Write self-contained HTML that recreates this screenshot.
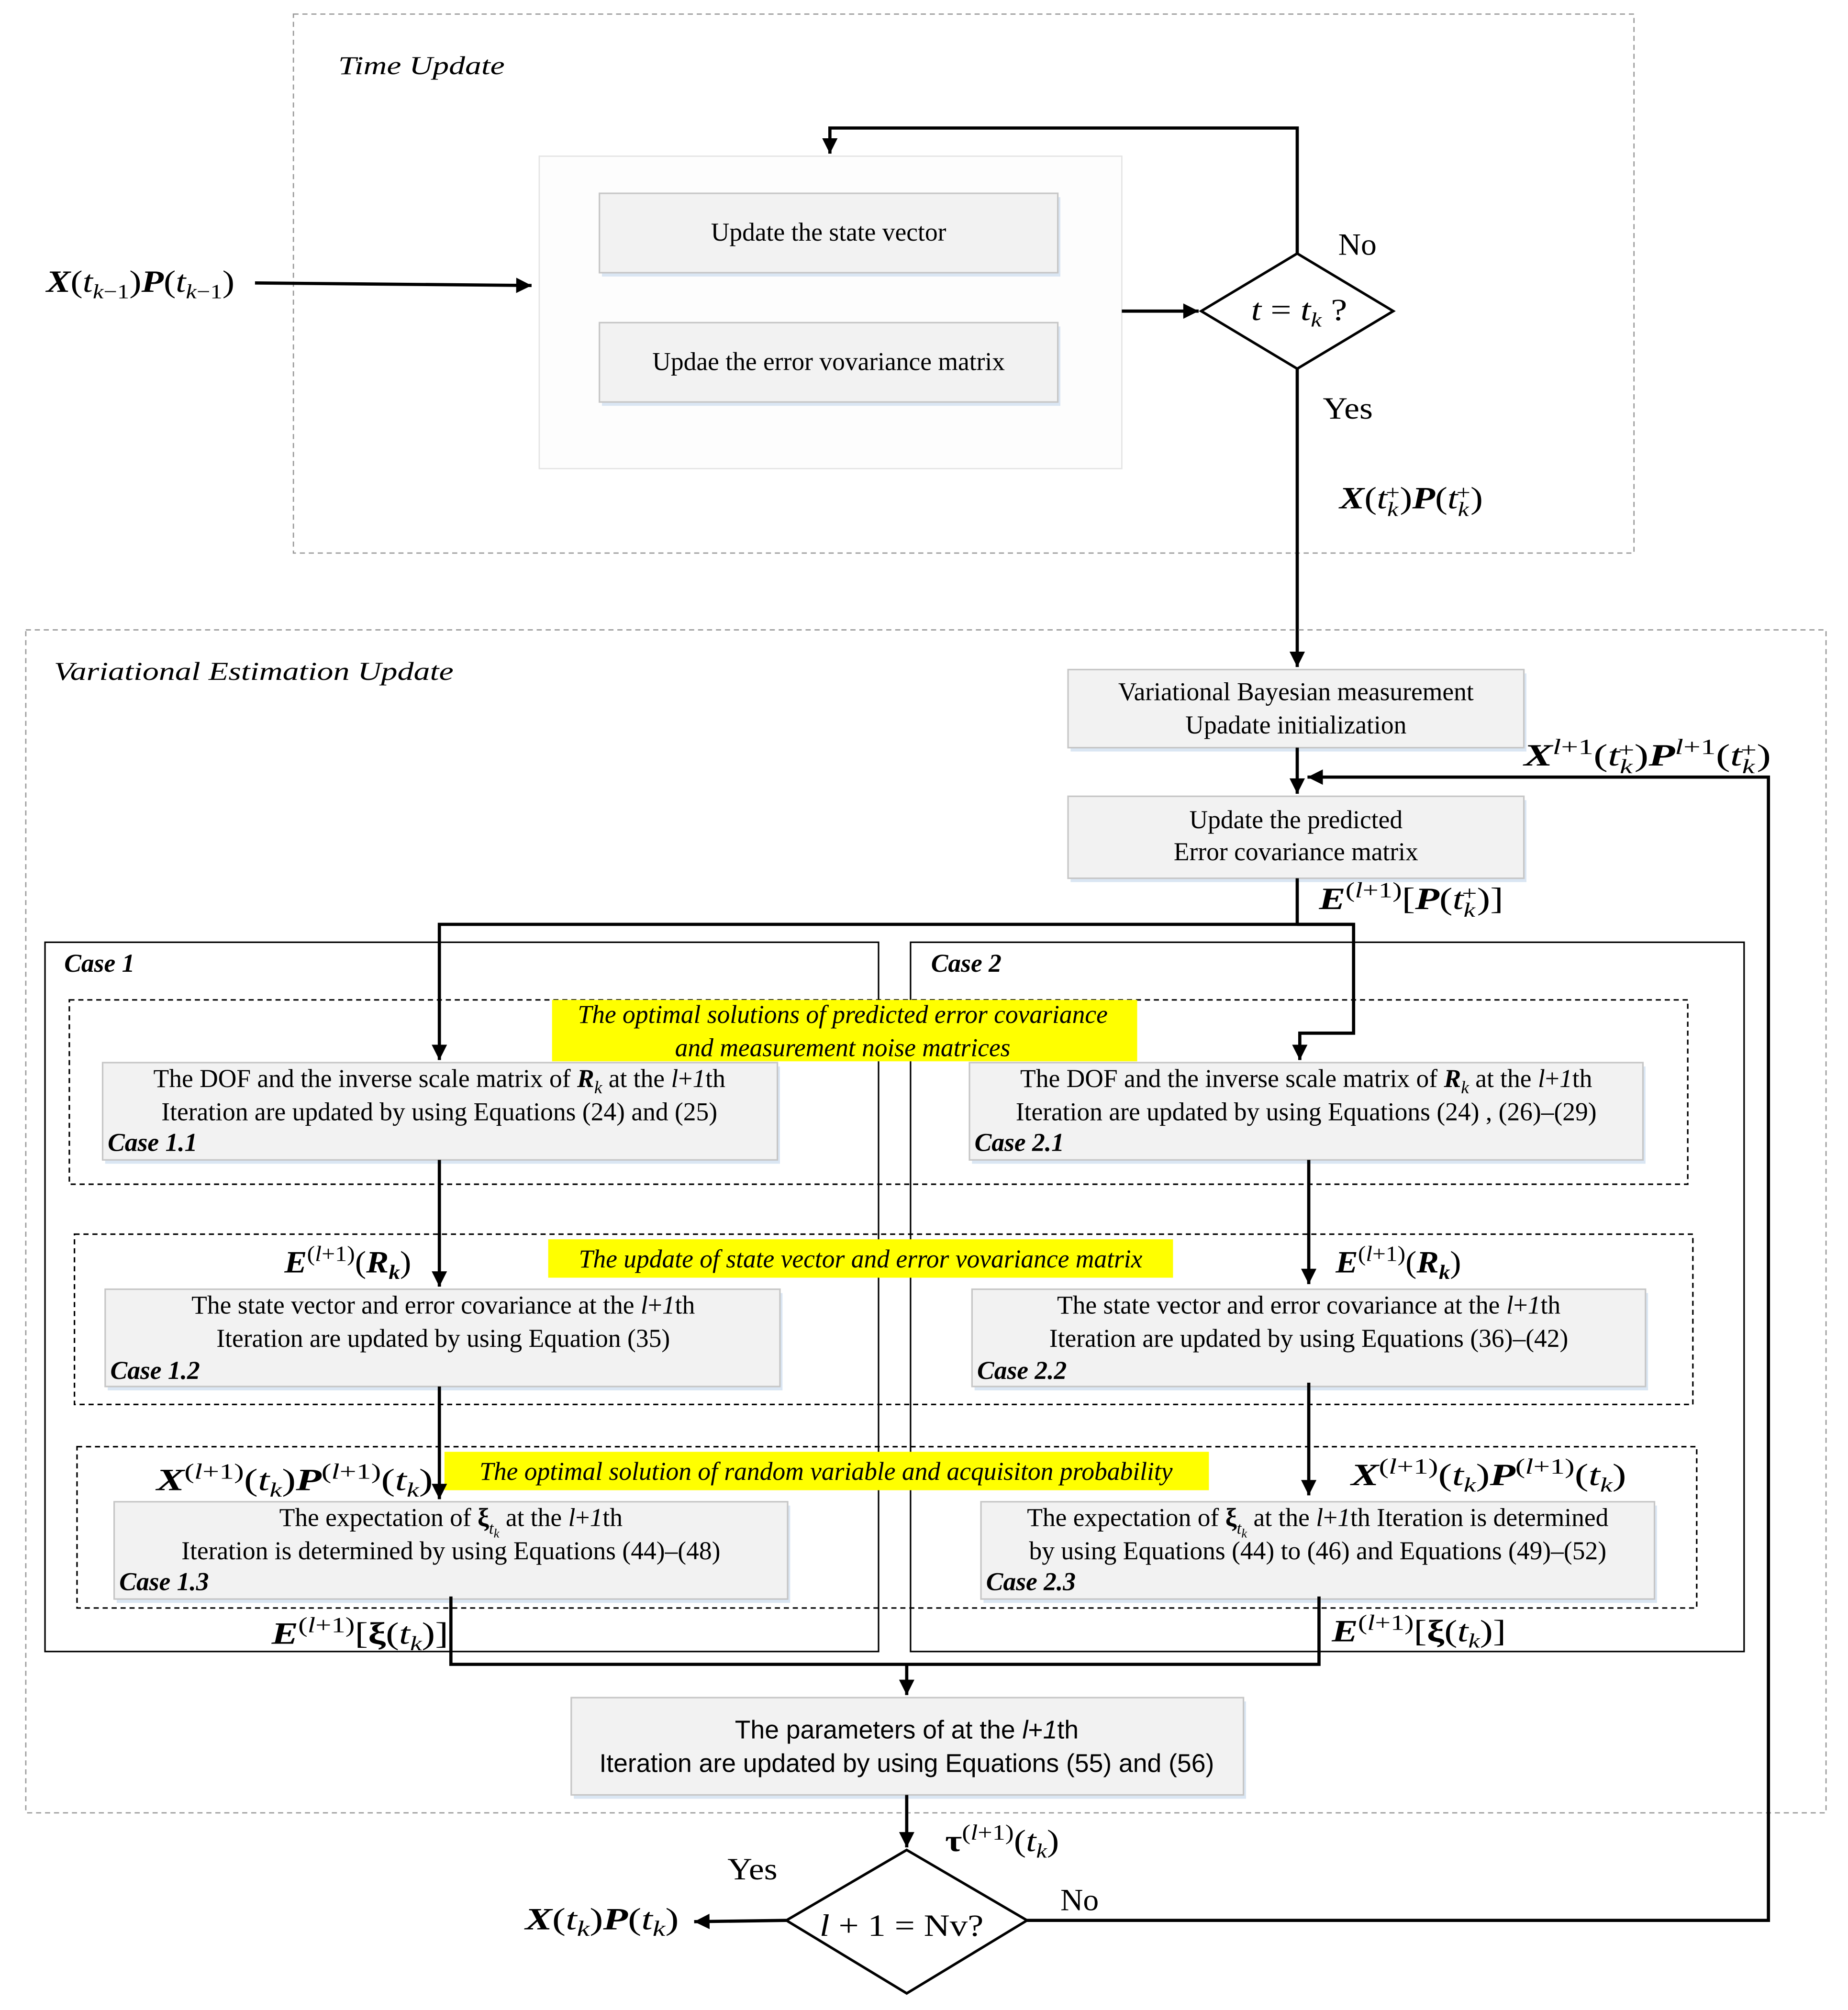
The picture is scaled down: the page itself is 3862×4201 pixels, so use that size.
<!DOCTYPE html>
<html><head><meta charset="utf-8"><style>
html,body{margin:0;padding:0;background:#fff}
svg{display:block}
text{font-family:"Liberation Serif",serif;fill:#000}
.t{font-size:20px}
.c{text-anchor:middle}
.i{font-style:italic}
.b{font-weight:bold}
.bi{font-weight:bold;font-style:italic}
.bx{fill:#f2f2f2;stroke:#c6c6c6;stroke-width:1.2}
.sh{fill:#dae6f3}
.ln{fill:none;stroke:#000;stroke-width:2.5}
.dl{fill:none;stroke:#000;stroke-width:1.2;stroke-dasharray:4 3}
.gl{fill:none;stroke:#999;stroke-width:1;stroke-dasharray:4 3}
.m{font-size:24px}
</style></head><body>
<svg width="3862" height="4201" viewBox="0 0 1443 1570" xmlns="http://www.w3.org/2000/svg">
<defs><marker id="A" viewBox="0 0 10 10" refX="10" refY="5" markerWidth="16" markerHeight="12" orient="auto" markerUnits="userSpaceOnUse"><path d="M0,0 L10,5 L0,10 z" fill="#000"/></marker></defs>
<rect x="0" y="0" width="1443" height="1570" fill="#fff"/>
<!-- Time Update -->
<rect x="229" y="11" width="1047" height="421" class="gl"/>
<text x="264" y="58" class="t i" font-size="24" textLength="130" lengthAdjust="spacingAndGlyphs">Time Update</text>
<rect x="421" y="122" width="455" height="244" fill="#fdfdfd" stroke="#e4e4e4"/>
<rect x="470" y="154" width="358" height="62" class="sh"/><rect x="468" y="151" width="358" height="62" class="bx"/>
<text x="647" y="188" class="t c">Update the state vector</text>
<rect x="470" y="255" width="358" height="62" class="sh"/><rect x="468" y="252" width="358" height="62" class="bx"/>
<text x="647" y="289" class="t c">Updae the error vovariance matrix</text>
<text x="36" y="228" class="m" textLength="147" lengthAdjust="spacingAndGlyphs"><tspan class="bi">X</tspan>(<tspan class="i">t</tspan><tspan font-size="16" dy="5" class="i">k</tspan><tspan font-size="16">−1</tspan><tspan dy="-5">)</tspan><tspan class="bi">P</tspan>(<tspan class="i">t</tspan><tspan font-size="16" dy="5" class="i">k</tspan><tspan font-size="16">−1</tspan><tspan dy="-5">)</tspan></text>
<line x1="199" y1="221" x2="415" y2="223" class="ln" marker-end="url(#A)"/>
<line x1="876" y1="243" x2="936" y2="243" class="ln" marker-end="url(#A)"/>
<polygon points="1013,198 1088,243 1013,288 938,243" fill="#fff" stroke="#000" stroke-width="2"/>
<text x="977" y="250" class="m" textLength="75" lengthAdjust="spacingAndGlyphs"><tspan class="i">t</tspan> = <tspan class="i">t</tspan><tspan font-size="16" dy="5" class="i">k</tspan><tspan dy="-5"> ?</tspan></text>
<polyline points="1013,198 1013,100 648,100 648,120" class="ln" marker-end="url(#A)"/>
<text x="1045" y="199" class="m" textLength="30" lengthAdjust="spacingAndGlyphs">No</text>
<text x="1033" y="327" class="m" textLength="39" lengthAdjust="spacingAndGlyphs">Yes</text>
<text x="1046" y="397" class="m" textLength="112" lengthAdjust="spacingAndGlyphs"><tspan class="bi">X</tspan>(<tspan class="i">t</tspan><tspan font-size="16" dy="6" class="i">k</tspan><tspan font-size="16" dx="-8" dy="-13">+</tspan><tspan dy="7">)</tspan><tspan class="bi">P</tspan>(<tspan class="i">t</tspan><tspan font-size="16" dy="6" class="i">k</tspan><tspan font-size="16" dx="-8" dy="-13">+</tspan><tspan dy="7">)</tspan></text>
<line x1="1013" y1="288" x2="1013" y2="521" class="ln" marker-end="url(#A)"/>
<!-- Variational -->
<rect x="20" y="492" width="1406" height="924" class="gl"/>
<text x="42" y="531" class="t i" font-size="24" textLength="312" lengthAdjust="spacingAndGlyphs">Variational Estimation Update</text>
<rect x="836" y="526" width="356" height="61" class="sh"/><rect x="834" y="523" width="356" height="61" class="bx"/>
<text x="1012" y="547" class="t c">Variational Bayesian measurement</text>
<text x="1012" y="573" class="t c">Upadate initialization</text>
<line x1="1013" y1="584" x2="1013" y2="620" class="ln" marker-end="url(#A)"/>
<rect x="836" y="625" width="356" height="64" class="sh"/><rect x="834" y="622" width="356" height="64" class="bx"/>
<text x="1012" y="647" class="t c">Update the predicted</text>
<text x="1012" y="672" class="t c">Error covariance matrix</text>
<text x="1190" y="598" class="m" textLength="193" lengthAdjust="spacingAndGlyphs"><tspan class="bi">X</tspan><tspan font-size="17" dy="-9"><tspan class="i">l</tspan>+1</tspan><tspan dy="9">(</tspan><tspan class="i">t</tspan><tspan font-size="16" dy="6" class="i">k</tspan><tspan font-size="16" dx="-8" dy="-13">+</tspan><tspan dy="7">)</tspan><tspan class="bi">P</tspan><tspan font-size="17" dy="-9"><tspan class="i">l</tspan>+1</tspan><tspan dy="9">(</tspan><tspan class="i">t</tspan><tspan font-size="16" dy="6" class="i">k</tspan><tspan font-size="16" dx="-8" dy="-13">+</tspan><tspan dy="7">)</tspan></text>
<polyline points="802,1500 1381,1500 1381,607 1021,607" class="ln" marker-end="url(#A)"/>
<text x="1030" y="710" class="m" textLength="144" lengthAdjust="spacingAndGlyphs"><tspan class="bi">E</tspan><tspan font-size="17" dy="-9">(<tspan class="i">l</tspan>+1)</tspan><tspan dy="9">[</tspan><tspan class="bi">P</tspan>(<tspan class="i">t</tspan><tspan font-size="16" dy="6" class="i">k</tspan><tspan font-size="16" dx="-8" dy="-13">+</tspan><tspan dy="7">)]</tspan></text>
<polyline points="1013,686 1013,722" class="ln"/>
<polyline points="1057,722 343,722 343,828" class="ln" marker-end="url(#A)"/>
<polyline points="1013,722 1057,722 1057,807 1015,807 1015,828" class="ln" marker-end="url(#A)"/>
<!-- cases -->
<rect x="35" y="736" width="651" height="554" fill="none" stroke="#000" stroke-width="1.2"/>
<rect x="711" y="736" width="651" height="554" fill="none" stroke="#000" stroke-width="1.2"/>
<text x="50" y="759" class="t bi" font-size="22">Case 1</text>
<text x="727" y="759" class="t bi" font-size="22">Case 2</text>
<rect x="54" y="781" width="1264" height="144" class="dl"/>
<rect x="58" y="964" width="1264" height="133" class="dl"/>
<rect x="60" y="1130" width="1265" height="126" class="dl"/>
<rect x="431" y="781" width="457" height="48" fill="#ffff00"/>
<text x="658" y="799" class="t c i">The optimal solutions of predicted error covariance</text>
<text x="658" y="825" class="t c i">and measurement noise matrices</text>
<rect x="428" y="968" width="488" height="30" fill="#ffff00"/>
<text x="672" y="990" class="t c i">The update of state vector and error vovariance matrix</text>
<rect x="347" y="1134" width="597" height="30" fill="#ffff00"/>
<text x="645" y="1156" class="t c i">The optimal solution of random variable and acquisiton probability</text>
<!-- row1 -->
<rect x="82" y="833" width="527" height="76" class="sh"/><rect x="80" y="830" width="527" height="76" class="bx"/>
<text x="343" y="849" class="t c">The DOF and the inverse scale matrix of <tspan class="bi">R</tspan><tspan font-size="14" dy="5" class="i">k</tspan><tspan dy="-5">  at the </tspan><tspan class="i">l</tspan>+<tspan class="i">1</tspan>th</text>
<text x="343" y="875" class="t c">Iteration are updated by using Equations (24) and (25)</text>
<text x="84" y="899" class="t bi">Case 1.1</text>
<rect x="759" y="833" width="526" height="76" class="sh"/><rect x="757" y="830" width="526" height="76" class="bx"/>
<text x="1020" y="849" class="t c">The DOF and the inverse scale matrix of <tspan class="bi">R</tspan><tspan font-size="14" dy="5" class="i">k</tspan><tspan dy="-5">  at the </tspan><tspan class="i">l</tspan>+<tspan class="i">1</tspan>th</text>
<text x="1020" y="875" class="t c">Iteration are updated by using Equations (24) , (26)–(29)</text>
<text x="761" y="899" class="t bi">Case 2.1</text>
<line x1="343" y1="906" x2="343" y2="1005" class="ln" marker-end="url(#A)"/>
<line x1="1022" y1="906" x2="1022" y2="1003" class="ln" marker-end="url(#A)"/>
<text x="222" y="994" class="m" textLength="99" lengthAdjust="spacingAndGlyphs"><tspan class="bi">E</tspan><tspan font-size="17" dy="-9">(<tspan class="i">l</tspan>+1)</tspan><tspan dy="9">(</tspan><tspan class="bi">R</tspan><tspan font-size="16" dy="5" class="bi">k</tspan><tspan dy="-5">)</tspan></text>
<text x="1043" y="994" class="m" textLength="98" lengthAdjust="spacingAndGlyphs"><tspan class="bi">E</tspan><tspan font-size="17" dy="-9">(<tspan class="i">l</tspan>+1)</tspan><tspan dy="9">(</tspan><tspan class="bi">R</tspan><tspan font-size="16" dy="5" class="bi">k</tspan><tspan dy="-5">)</tspan></text>
<!-- row2 -->
<rect x="84" y="1010" width="527" height="76" class="sh"/><rect x="82" y="1007" width="527" height="76" class="bx"/>
<text x="346" y="1026" class="t c">The state vector and  error covariance at the <tspan class="i">l</tspan>+<tspan class="i">1</tspan>th</text>
<text x="346" y="1052" class="t c">Iteration are updated by using Equation (35)</text>
<text x="86" y="1077" class="t bi">Case 1.2</text>
<rect x="761" y="1010" width="526" height="76" class="sh"/><rect x="759" y="1007" width="526" height="76" class="bx"/>
<text x="1022" y="1026" class="t c">The state vector and  error covariance at the <tspan class="i">l</tspan>+<tspan class="i">1</tspan>th</text>
<text x="1022" y="1052" class="t c">Iteration are updated by using Equations (36)–(42)</text>
<text x="763" y="1077" class="t bi">Case 2.2</text>
<line x1="343" y1="1083" x2="343" y2="1171" class="ln" marker-end="url(#A)"/>
<line x1="1022" y1="1080" x2="1022" y2="1168" class="ln" marker-end="url(#A)"/>
<text x="122" y="1164" class="m" textLength="216" lengthAdjust="spacingAndGlyphs"><tspan class="bi">X</tspan><tspan font-size="17" dy="-9">(<tspan class="i">l</tspan>+1)</tspan><tspan dy="9">(</tspan><tspan class="i">t</tspan><tspan font-size="16" dy="5" class="i">k</tspan><tspan dy="-5">)</tspan><tspan class="bi">P</tspan><tspan font-size="17" dy="-9">(<tspan class="i">l</tspan>+1)</tspan><tspan dy="9">(</tspan><tspan class="i">t</tspan><tspan font-size="16" dy="5" class="i">k</tspan><tspan dy="-5">)</tspan></text>
<text x="1055" y="1160" class="m" textLength="215" lengthAdjust="spacingAndGlyphs"><tspan class="bi">X</tspan><tspan font-size="17" dy="-9">(<tspan class="i">l</tspan>+1)</tspan><tspan dy="9">(</tspan><tspan class="i">t</tspan><tspan font-size="16" dy="5" class="i">k</tspan><tspan dy="-5">)</tspan><tspan class="bi">P</tspan><tspan font-size="17" dy="-9">(<tspan class="i">l</tspan>+1)</tspan><tspan dy="9">(</tspan><tspan class="i">t</tspan><tspan font-size="16" dy="5" class="i">k</tspan><tspan dy="-5">)</tspan></text>
<!-- row3 -->
<rect x="91" y="1176" width="526" height="76" class="sh"/><rect x="89" y="1173" width="526" height="76" class="bx"/>
<text x="352" y="1192" class="t c">The expectation of  <tspan class="b">ξ</tspan><tspan font-size="13" dy="6" class="i">t</tspan><tspan font-size="10" dy="3" class="i">k</tspan><tspan dy="-9">  at the </tspan><tspan class="i">l</tspan>+<tspan class="i">1</tspan>th</text>
<text x="352" y="1218" class="t c">Iteration is determined by using Equations (44)–(48)</text>
<text x="93" y="1242" class="t bi">Case 1.3</text>
<rect x="768" y="1176" width="526" height="76" class="sh"/><rect x="766" y="1173" width="526" height="76" class="bx"/>
<text x="1029" y="1192" class="t c">The expectation of <tspan class="b">ξ</tspan><tspan font-size="13" dy="6" class="i">t</tspan><tspan font-size="10" dy="3" class="i">k</tspan><tspan dy="-9"> at the </tspan><tspan class="i">l</tspan>+<tspan class="i">1</tspan>th Iteration is determined</text>
<text x="1029" y="1218" class="t c">by using Equations (44) to (46) and Equations (49)–(52)</text>
<text x="770" y="1242" class="t bi">Case 2.3</text>
<text x="212" y="1284" class="m" textLength="138" lengthAdjust="spacingAndGlyphs"><tspan class="bi">E</tspan><tspan font-size="17" dy="-9">(<tspan class="i">l</tspan>+1)</tspan><tspan dy="9">[</tspan><tspan class="b">ξ</tspan>(<tspan class="i">t</tspan><tspan font-size="16" dy="5" class="i">k</tspan><tspan dy="-5">)]</tspan></text>
<text x="1040" y="1282" class="m" textLength="136" lengthAdjust="spacingAndGlyphs"><tspan class="bi">E</tspan><tspan font-size="17" dy="-9">(<tspan class="i">l</tspan>+1)</tspan><tspan dy="9">[</tspan><tspan class="b">ξ</tspan>(<tspan class="i">t</tspan><tspan font-size="16" dy="5" class="i">k</tspan><tspan dy="-5">)]</tspan></text>
<polyline points="352,1247 352,1300 1030,1300 1030,1247" class="ln"/>
<line x1="708" y1="1300" x2="708" y2="1324" class="ln" marker-end="url(#A)"/>
<rect x="448" y="1329" width="525" height="76" class="sh"/><rect x="446" y="1326" width="525" height="76" class="bx"/>
<text x="708" y="1358" class="t c" style="font-family:'Liberation Sans',sans-serif" font-size="19">The parameters of at the <tspan class="i">l</tspan>+<tspan class="i">1</tspan>th</text>
<text x="708" y="1384" class="t c" style="font-family:'Liberation Sans',sans-serif" font-size="19">Iteration are updated by using Equations (55) and (56)</text>
<line x1="708" y1="1402" x2="708" y2="1443" class="ln" marker-end="url(#A)"/>
<text x="738" y="1446" class="m" textLength="89" lengthAdjust="spacingAndGlyphs"><tspan class="b">τ</tspan><tspan font-size="17" dy="-9">(<tspan class="i">l</tspan>+1)</tspan><tspan dy="9">(</tspan><tspan class="i">t</tspan><tspan font-size="16" dy="5" class="i">k</tspan><tspan dy="-5">)</tspan></text>
<polygon points="708,1445 802,1500 708,1557 614,1500" fill="#fff" stroke="#000" stroke-width="2"/>
<text x="640" y="1512" class="m" font-size="27" textLength="128" lengthAdjust="spacingAndGlyphs"><tspan class="i">l</tspan> + 1 = Nv?</text>
<line x1="614" y1="1500" x2="542" y2="1501" class="ln" marker-end="url(#A)"/>
<text x="568" y="1468" class="m" textLength="39" lengthAdjust="spacingAndGlyphs">Yes</text>
<text x="828" y="1492" class="m" textLength="30" lengthAdjust="spacingAndGlyphs">No</text>
<text x="410" y="1507" class="m" textLength="120" lengthAdjust="spacingAndGlyphs"><tspan class="bi">X</tspan>(<tspan class="i">t</tspan><tspan font-size="17" dy="5" class="i">k</tspan><tspan dy="-5">)</tspan><tspan class="bi">P</tspan>(<tspan class="i">t</tspan><tspan font-size="17" dy="5" class="i">k</tspan><tspan dy="-5">)</tspan></text>
</svg>
</body></html>
